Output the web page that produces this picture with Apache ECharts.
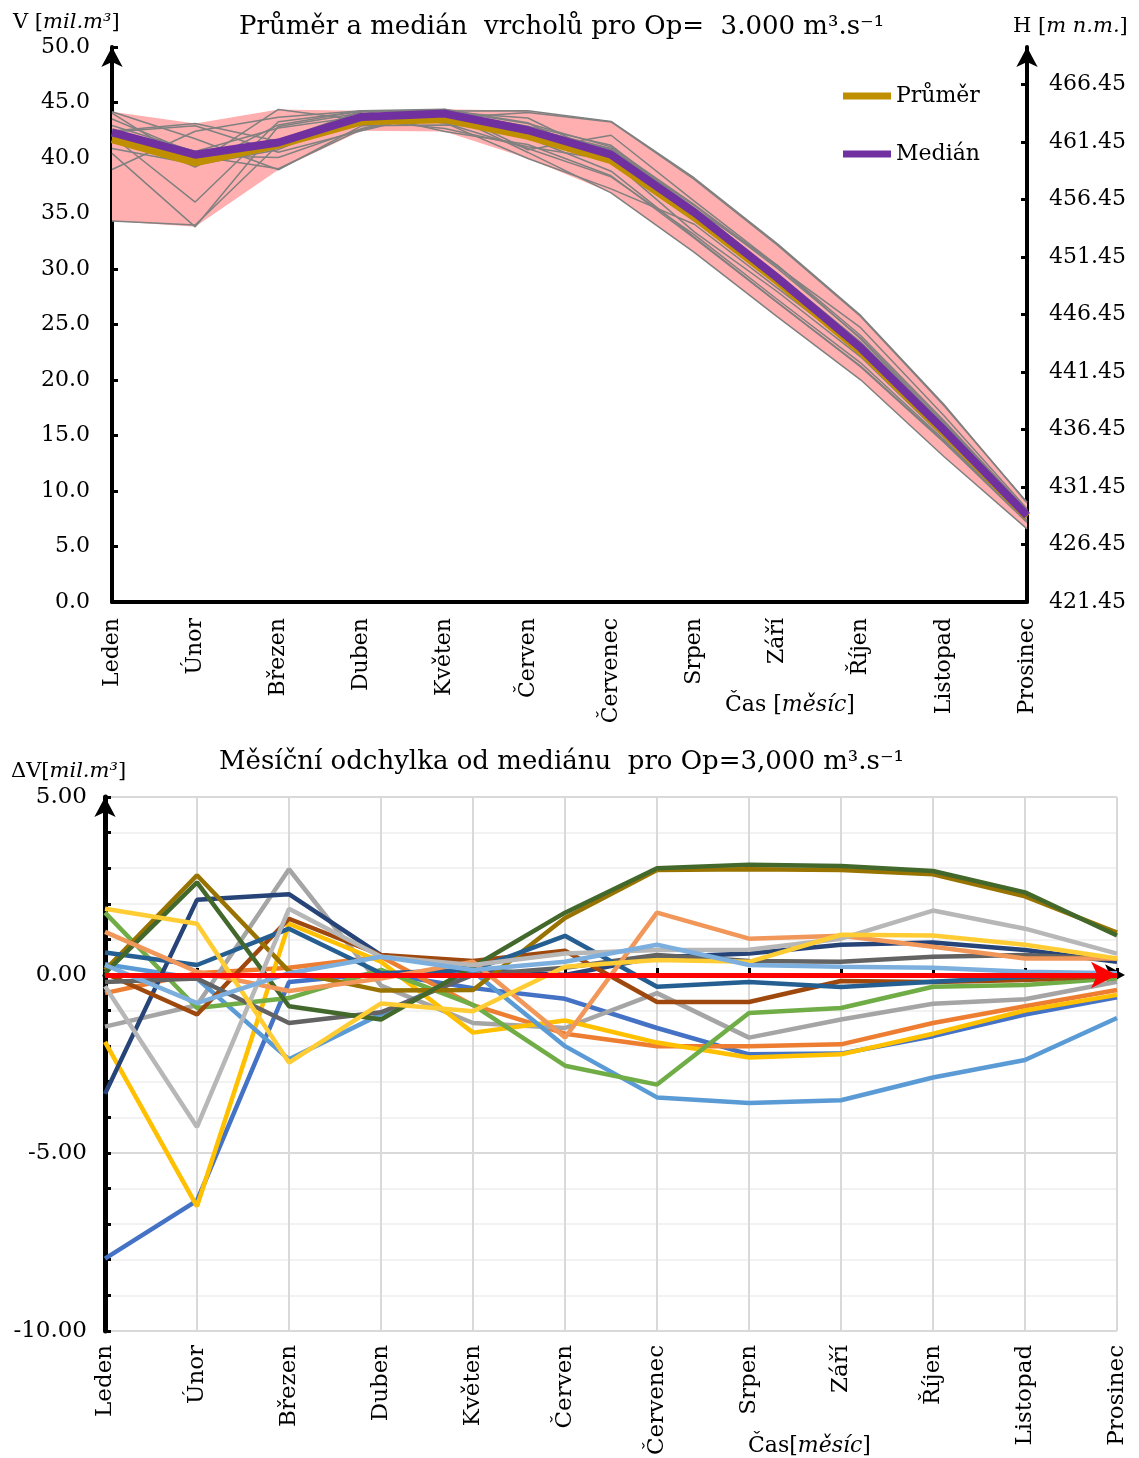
<!DOCTYPE html>
<html>
<head>
<meta charset="utf-8">
<script src="https://cdn.jsdelivr.net/npm/echarts/dist/echarts.min.js"></script>
<style>
  html, body { margin: 0; padding: 0; background: #fff; }
  #main { width: 1139px; height: 1458px; }
</style>
</head>
<body>
<div id="main"></div>
<script>
// 月份
var months = ['Leden', 'Únor', 'Březen', 'Duben', 'Květen', 'Červen', 'Červenec', 'Srpen', 'Září', 'Říjen', 'Listopad', 'Prosinec'];

// 上图：中位数与平均值 [mil.m3]
var median = [42.3, 40.3, 41.4, 43.7, 44.0, 42.5, 40.3, 35.1, 29.2, 22.9, 15.5, 7.8];
var mean = [41.7, 39.6, 41.2, 43.3, 43.5, 42.0, 39.8, 34.7, 28.9, 22.6, 15.3, 7.7];

// 右轴 H 的起点 [m n.m.]
var hBase = 421.45;

// 下图：各年份相对中位数的偏差 [mil.m3]
var devBlue = [-7.97, -6.34, -0.2, 0.05, -0.37, -0.67, -1.49, -2.23, -2.21, -1.72, -1.11, -0.63];
var devOrange = [-0.51, 0.05, 0.2, 0.51, -0.85, -1.65, -2.0, -2.0, -1.95, -1.35, -0.88, -0.42];
var devGrey = [-1.45, -0.85, 2.97, -0.3, -1.35, -1.49, -0.51, -1.76, -1.25, -0.81, -0.68, -0.19];
var devGold = [-1.88, -6.5, 1.44, 0.37, -1.62, -1.28, -1.9, -2.32, -2.23, -1.65, -1.0, -0.56];
var devSky = [0.3, -0.1, -2.37, -1.1, 0.1, -2.0, -3.44, -3.6, -3.52, -2.88, -2.39, -1.21];
var devGreen = [1.75, -0.93, -0.65, 0.14, -0.84, -2.55, -3.08, -1.07, -0.93, -0.33, -0.28, -0.09];
var devNavy = [-3.34, 2.11, 2.27, 0.56, 0.15, 0.0, 0.5, 0.6, 0.85, 0.91, 0.70, 0.37];
var devBrown = [0.05, -1.11, 1.58, 0.56, 0.39, 0.68, -0.76, -0.76, -0.17, -0.2, -0.14, -0.02];
var devDarkGrey = [-0.2, -0.1, -1.35, -1.05, 0.0, 0.2, 0.56, 0.39, 0.37, 0.51, 0.56, 0.45];
var devOlive = [0.14, 2.80, 0.1, -0.44, -0.42, 1.6, 2.95, 2.97, 2.95, 2.83, 2.21, 1.19];
var devSteel = [0.63, 0.28, 1.30, 0.05, 0.14, 1.10, -0.33, -0.2, -0.34, -0.19, -0.05, 0.05];
var devDarkGreen = [0.05, 2.6, -0.88, -1.25, 0.23, 1.75, 3.0, 3.1, 3.06, 2.92, 2.32, 1.11];
var devLightOrange = [1.21, 0.09, -0.45, -0.1, 0.37, -1.76, 1.75, 1.02, 1.1, 0.79, 0.46, 0.46];
var devLightGrey = [-0.32, -4.27, 1.86, 0.51, 0.28, 0.6, 0.70, 0.71, 1.02, 1.81, 1.3, 0.6];
var devLightGold = [1.86, 1.44, -2.46, -0.8, -1.02, 0.23, 0.42, 0.37, 1.13, 1.11, 0.85, 0.46];
var devLightBlue = [0.28, -0.79, 0.05, 0.51, 0.14, 0.37, 0.85, 0.28, 0.23, 0.2, 0.09, 0.05];

var devSeries = [
  { data: devBlue, color: '#4472C4' },
  { data: devOrange, color: '#ED7D31' },
  { data: devGrey, color: '#A5A5A5' },
  { data: devGold, color: '#FFC000' },
  { data: devSky, color: '#5B9BD5' },
  { data: devGreen, color: '#70AD47' },
  { data: devNavy, color: '#264478' },
  { data: devBrown, color: '#9E480E' },
  { data: devDarkGrey, color: '#636363' },
  { data: devOlive, color: '#997300' },
  { data: devSteel, color: '#255E91' },
  { data: devDarkGreen, color: '#43682B' },
  { data: devLightOrange, color: '#F1975A' },
  { data: devLightGrey, color: '#B7B7B7' },
  { data: devLightGold, color: '#FFCD33' },
  { data: devLightBlue, color: '#7CAFDD' }
];

var FONT = 'DejaVu Serif';

// 上图的各年份曲线 = 中位数 + 偏差
var yearLines = devSeries.map(function (s) {
  return s.data.map(function (d, i) { return +(median[i] + d).toFixed(2); });
});
var bandMin = months.map(function (m, i) {
  return Math.min.apply(null, yearLines.map(function (l) { return l[i]; }));
});
var bandSpan = months.map(function (m, i) {
  var mx = Math.max.apply(null, yearLines.map(function (l) { return l[i]; }));
  return +(mx - bandMin[i]).toFixed(2);
});

var myChart = echarts.init(document.getElementById('main'));

var series = [];

// 粉色区间
series.push({
  type: 'line', xAxisIndex: 0, yAxisIndex: 0, stack: 'band', symbol: 'none', silent: true,
  lineStyle: { opacity: 0 }, data: bandMin
});
series.push({
  type: 'line', xAxisIndex: 0, yAxisIndex: 0, stack: 'band', symbol: 'none', silent: true,
  lineStyle: { opacity: 0 }, areaStyle: { color: '#ffafaf', opacity: 1 }, data: bandSpan
});

// 灰色年份曲线
yearLines.forEach(function (l) {
  series.push({
    type: 'line', xAxisIndex: 0, yAxisIndex: 0, symbol: 'none', silent: true,
    lineStyle: { color: '#808080', width: 1.5 }, data: l
  });
});

series.push({
  name: 'Průměr', type: 'line', xAxisIndex: 0, yAxisIndex: 0, symbol: 'none',
  color: '#BF8F00', lineStyle: { color: '#BF8F00', width: 8 }, data: mean
});
series.push({
  name: 'Medián', type: 'line', xAxisIndex: 0, yAxisIndex: 0, symbol: 'none',
  color: '#7030A0', lineStyle: { color: '#7030A0', width: 8 }, data: median
});

// 下图偏差曲线
devSeries.forEach(function (s) {
  series.push({
    type: 'line', xAxisIndex: 1, yAxisIndex: 2, symbol: 'none', silent: true,
    lineStyle: { color: s.color, width: 4.5 }, data: s.data
  });
});

// 红色零线箭头
series.push({
  type: 'line', xAxisIndex: 1, yAxisIndex: 2, data: [], z: 10,
  markLine: {
    silent: true, symbol: ['none', 'arrow'], symbolSize: [20, 26],
    label: { show: false },
    lineStyle: { color: '#ff0000', width: 5, type: 'solid' },
    data: [{ yAxis: 0 }]
  }
});

function smallTitle(text, left, top, size) {
  return {
    text: text, left: left, top: top,
    textStyle: {
      fontFamily: FONT, fontSize: size, fontWeight: 'normal', color: '#000',
      rich: { i: { fontFamily: FONT, fontSize: size, fontStyle: 'italic', color: '#000' } }
    }
  };
}

var option = {
  animation: false,
  backgroundColor: '#fff',
  title: [
    { text: 'Průměr a medián  vrcholů pro Op=  3.000 m³.s⁻¹', left: 234, top: 9,
      textStyle: { fontFamily: FONT, fontSize: 26, fontWeight: 'normal', color: '#000' } },
    { text: 'Měsíční odchylka od mediánu  pro Op=3,000 m³.s⁻¹', left: 214, top: 744,
      textStyle: { fontFamily: FONT, fontSize: 26, fontWeight: 'normal', color: '#000' } },
    smallTitle('V [{i|mil.m³}]', 8, 7, 21),
    smallTitle('H [{i|m n.m.}]', 1008, 11, 21),
    smallTitle('ΔV[{i|mil.m³}]', 6, 756, 21),
    smallTitle('Čas [{i|měsíc}]', 720, 689, 22),
    smallTitle('Čas[{i|měsíc}]', 743, 1430, 22)
  ],
  legend: {
    data: ['Průměr', 'Medián'], orient: 'vertical', left: 838, top: 80,
    itemGap: 36, itemWidth: 48, itemHeight: 7, icon: 'rect',
    textStyle: { fontFamily: FONT, fontSize: 22, color: '#000' }
  },
  grid: [
    { left: 112, top: 47, width: 915, height: 555 },
    { left: 105, top: 797, width: 1012, height: 539 }
  ],
  xAxis: [
    {
      gridIndex: 0, type: 'category', data: months, boundaryGap: false,
      axisLine: { lineStyle: { color: '#000', width: 4 } },
      axisTick: { show: false },
      axisLabel: { rotate: 90, margin: 16, fontFamily: FONT, fontSize: 22, color: '#000' },
      splitLine: { show: false }
    },
    {
      gridIndex: 1, type: 'category', data: months, boundaryGap: false,
      axisLine: { lineStyle: { color: '#000', width: 5 }, symbol: ['none', 'arrow'], symbolSize: [16, 20], symbolOffset: [0, 8] },
      axisTick: { show: true, inside: true, length: 7, lineStyle: { color: '#000', width: 3 } },
      axisLabel: { rotate: 90, margin: 14, fontFamily: FONT, fontSize: 23, color: '#000' },
      splitLine: { show: true, lineStyle: { color: '#d9d9d9', width: 2 } }
    }
  ],
  yAxis: [
    {
      gridIndex: 0, type: 'value', min: 0, max: 50, interval: 5,
      axisLine: { show: true, lineStyle: { color: '#000', width: 4 }, symbol: ['none', 'arrow'], symbolSize: [16, 20] },
      axisTick: { show: true, inside: true, length: 6, lineStyle: { color: '#000', width: 3 } },
      axisLabel: { margin: 22, fontFamily: FONT, fontSize: 22, color: '#000',
        formatter: function (v) { return v.toFixed(1); } },
      splitLine: { show: false }
    },
    {
      gridIndex: 0, type: 'value', position: 'right', min: 0, max: 48.26, interval: 5,
      axisLine: { show: true, lineStyle: { color: '#000', width: 4 }, symbol: ['none', 'arrow'], symbolSize: [16, 20] },
      axisTick: { show: true, inside: true, length: 6, lineStyle: { color: '#000', width: 3 } },
      axisLabel: { margin: 22, fontFamily: FONT, fontSize: 22, color: '#000', showMaxLabel: false,
        formatter: function (v) { return (v + hBase).toFixed(2); } },
      splitLine: { show: false }
    },
    {
      gridIndex: 1, type: 'value', min: -10, max: 5, interval: 5,
      axisLine: { show: true, lineStyle: { color: '#000', width: 5 }, symbol: ['none', 'arrow'], symbolSize: [16, 20] },
      axisTick: { show: true, inside: true, length: 6, lineStyle: { color: '#000', width: 3 } },
      minorTick: { show: true, splitNumber: 5, length: 6, lineStyle: { color: '#000', width: 3 } },
      axisLabel: { margin: 18, fontFamily: FONT, fontSize: 23, color: '#000',
        formatter: function (v) { return v.toFixed(2); } },
      splitLine: { show: true, lineStyle: { color: '#d9d9d9', width: 2 } },
      minorSplitLine: { show: true, lineStyle: { color: '#f2f2f2', width: 2 } }
    }
  ],
  series: series
};

myChart.setOption(option);
</script>
</body>
</html>
